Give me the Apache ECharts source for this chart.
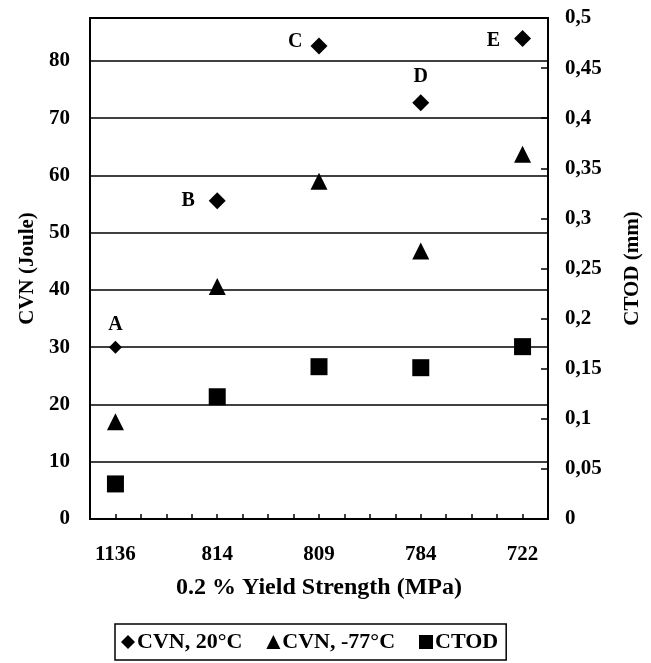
<!DOCTYPE html>
<html>
<head>
<meta charset="utf-8">
<script src="https://cdn.jsdelivr.net/npm/echarts@6/dist/echarts.min.js"></script>
<style>html,body{margin:0;padding:0;background:#fff;}#chart{width:651px;height:663px;}</style>
</head>
<body>
<div id="chart"></div>
<script>
var categories = ['1136', '814', '809', '784', '722'];
var pointLabels = ['A', 'B', 'C', 'D', 'E'];
var cvn20 = [30.0, 55.6, 82.6, 72.7, 83.9];
var cvnMinus77 = [17.0, 40.6, 59.0, 46.8, 63.7];
var ctod = [0.035, 0.122, 0.152, 0.151, 0.172];
var leftTicks = [0, 10, 20, 30, 40, 50, 60, 70, 80];

var FONT = 'Liberation Serif';
var labelPlacement = [
  {position: 'top', distance: 6},
  {position: 'left', distance: 14},
  {position: 'left', distance: 8, offset: [0, -4]},
  {position: 'top', distance: 7},
  {position: 'left', distance: 14, offset: [0, 2]}
];

function toPoints(arr) {
  return arr.map(function (v, i) { return [i + 1, v]; });
}

var cvn20Data = cvn20.map(function (v, i) {
  var lp = labelPlacement[i];
  return {
    value: [i + 1, v],
    symbolSize: i === 0 ? 13 : 17,
    label: {
      show: true,
      formatter: pointLabels[i],
      position: lp.position,
      distance: lp.distance,
      offset: lp.offset || [0, 0],
      color: '#000',
      opacity: 1,
      fontFamily: FONT,
      fontWeight: 'bold',
      fontSize: 20
    }
  };
});

var chart = echarts.init(document.getElementById('chart'), null, {renderer: 'canvas'});
chart.setOption({
  backgroundColor: '#fff',
  animation: false,
  grid: {left: 90, right: 103, top: 18, bottom: 144, show: true, borderColor: '#000', borderWidth: 2, backgroundColor: 'transparent'},
  legend: {
    left: 115, top: 624,
    data: [
      {name: 'CVN, 20°C', icon: 'diamond'},
      {name: 'CVN, -77°C', icon: 'triangle'},
      {name: 'CTOD', icon: 'rect'}
    ],
    itemWidth: 14, itemHeight: 14, itemGap: 24,
    padding: [7, 8, 7, 6],
    borderColor: '#000', borderWidth: 1.5,
    textStyle: {color: '#000', fontFamily: FONT, fontWeight: 'bold', fontSize: 22, padding: [0, 0, 0, -3]}
  },
  xAxis: {
    type: 'value', min: 0.75, max: 5.25, interval: 0.25,
    name: '0.2 % Yield Strength (MPa)', nameLocation: 'middle', nameGap: 57,
    nameTextStyle: {color: '#000', fontFamily: FONT, fontWeight: 'bold', fontSize: 24},
    axisLine: {show: true, lineStyle: {color: '#000', width: 2}},
    axisTick: {show: true, inside: true, length: 5, lineStyle: {color: '#000', width: 1.5}},
    splitLine: {show: false},
    axisLabel: {
      margin: 25, color: '#000', fontFamily: FONT, fontWeight: 'bold', fontSize: 21,
      formatter: function (v) {
        return Number.isInteger(v) && v >= 1 && v <= categories.length ? categories[v - 1] : '';
      }
    }
  },
  yAxis: [
    {
      type: 'value', min: 0, max: 87.5, interval: 10, position: 'left',
      name: 'CVN (Joule)', nameLocation: 'middle', nameGap: 52, nameRotate: 90,
      nameTextStyle: {color: '#000', fontFamily: FONT, fontWeight: 'bold', fontSize: 21},
      axisLine: {show: true, lineStyle: {color: '#000', width: 2}},
      axisTick: {show: false},
      splitLine: {show: true, lineStyle: {color: '#000', width: 1.5}},
      axisLabel: {
        margin: 20, color: '#000', fontFamily: FONT, fontWeight: 'bold', fontSize: 21,
        formatter: function (v) { return leftTicks.indexOf(v) >= 0 ? String(v) : ''; }
      }
    },
    {
      type: 'value', min: 0, max: 0.5, interval: 0.05, position: 'right',
      name: 'CTOD (mm)', nameLocation: 'middle', nameGap: 74, nameRotate: 90,
      nameTextStyle: {color: '#000', fontFamily: FONT, fontWeight: 'bold', fontSize: 21},
      axisLine: {show: true, lineStyle: {color: '#000', width: 2}},
      axisTick: {show: true, inside: true, length: 7, lineStyle: {color: '#000', width: 1.5}},
      splitLine: {show: false},
      axisLabel: {
        margin: 17, color: '#000', fontFamily: FONT, fontWeight: 'bold', fontSize: 21, align: 'left',
        formatter: function (v) { return String(Number(v.toFixed(2))).replace('.', ','); }
      }
    }
  ],
  series: [
    {
      name: 'CVN, 20°C', type: 'scatter', yAxisIndex: 0, symbol: 'diamond', symbolSize: 17,
      itemStyle: {color: '#000', opacity: 1}, data: cvn20Data
    },
    {
      name: 'CVN, -77°C', type: 'scatter', yAxisIndex: 0, symbol: 'triangle', symbolSize: 17,
      itemStyle: {color: '#000', opacity: 1}, data: toPoints(cvnMinus77)
    },
    {
      name: 'CTOD', type: 'scatter', yAxisIndex: 1, symbol: 'rect', symbolSize: 17,
      itemStyle: {color: '#000', opacity: 1}, data: toPoints(ctod)
    }
  ]
});
</script>
</body>
</html>
